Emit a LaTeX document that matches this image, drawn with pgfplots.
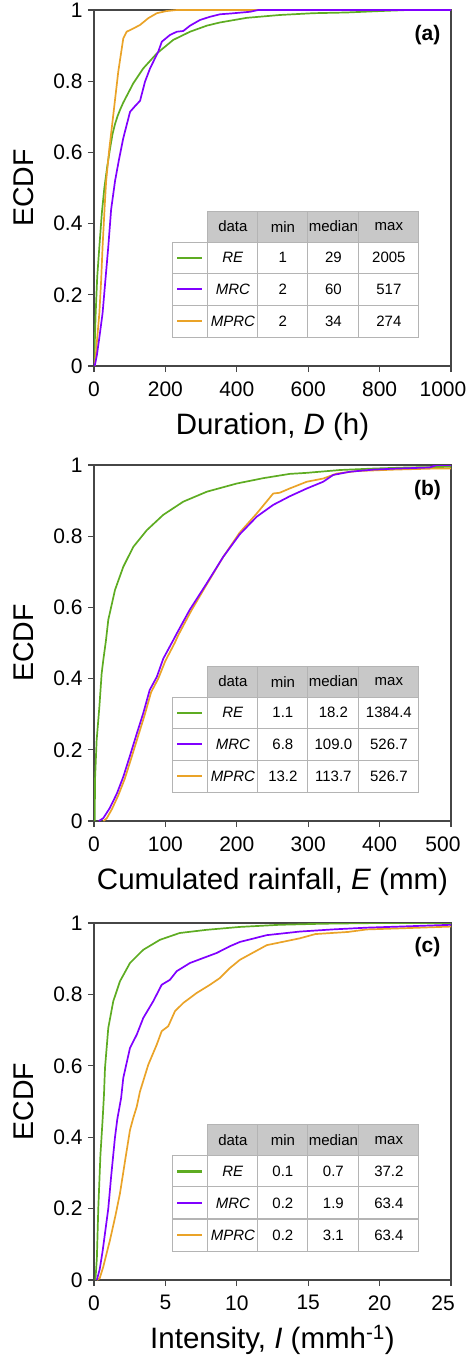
\documentclass[border=0pt]{standalone}
\usepackage{pgfplots}
\pgfplotsset{compat=1.18}
\usepackage{fontspec}
\setmainfont{Liberation Sans}
\definecolor{cgreen}{RGB}{94,172,34}
\definecolor{cpurple}{RGB}{128,0,255}
\definecolor{corange}{RGB}{234,163,40}
\definecolor{hdr}{RGB}{200,200,200}
\definecolor{gridc}{RGB}{180,180,180}
\definecolor{axc}{RGB}{70,70,70}

\newcommand{\ecdftable}[9]{%
  \fill[hdr] (rel axis cs:0.319,0.348) rectangle (rel axis cs:0.910,0.435);
  \draw[gridc, line width=1.1pt] (rel axis cs:0.319,0.348) rectangle (rel axis cs:0.910,0.435);
  \draw[gridc, line width=1.1pt] (rel axis cs:0.221,0.081) rectangle (rel axis cs:0.910,0.348);
  \draw[gridc, line width=1.1pt] (rel axis cs:0.319,0.081) -- (rel axis cs:0.319,0.435);
  \draw[gridc, line width=1.1pt] (rel axis cs:0.459,0.081) -- (rel axis cs:0.459,0.435);
  \draw[gridc, line width=1.1pt] (rel axis cs:0.599,0.081) -- (rel axis cs:0.599,0.435);
  \draw[gridc, line width=1.1pt] (rel axis cs:0.742,0.081) -- (rel axis cs:0.742,0.435);
  \draw[gridc, line width=1.1pt] (rel axis cs:0.221,0.261) -- (rel axis cs:0.910,0.261);
  \draw[gridc, line width=1.1pt] (rel axis cs:0.221,0.171) -- (rel axis cs:0.910,0.171);
  \fill[cgreen] (rel axis cs:0.232,0.3005) rectangle (rel axis cs:0.302,0.3075);
  \fill[cpurple] (rel axis cs:0.232,0.2125) rectangle (rel axis cs:0.302,0.2195);
  \fill[corange] (rel axis cs:0.232,0.1225) rectangle (rel axis cs:0.302,0.1295);
  \node[tfont] at (rel axis cs:0.389,0.3915) {data};
  \node[tfont] at (rel axis cs:0.529,0.3915) {min};
  \node[tfont] at (rel axis cs:0.6705,0.3915) {median};
  \node[tfont] at (rel axis cs:0.826,0.3915) {max};
  \node[tfont] at (rel axis cs:0.389,0.3045) {\textit{RE}};
  \node[tfont] at (rel axis cs:0.389,0.216) {\textit{MRC}};
  \node[tfont] at (rel axis cs:0.389,0.126) {\textit{MPRC}};
  \node[tfont] at (rel axis cs:0.529,0.3045) {#1};
  \node[tfont] at (rel axis cs:0.6705,0.3045) {#2};
  \node[tfont] at (rel axis cs:0.826,0.3045) {#3};
  \node[tfont] at (rel axis cs:0.529,0.216) {#4};
  \node[tfont] at (rel axis cs:0.6705,0.216) {#5};
  \node[tfont] at (rel axis cs:0.826,0.216) {#6};
  \node[tfont] at (rel axis cs:0.529,0.126) {#7};
  \node[tfont] at (rel axis cs:0.6705,0.126) {#8};
  \node[tfont] at (rel axis cs:0.826,0.126) {#9};
}

\tikzset{tfont/.style={font=\fontsize{15}{15}\selectfont, inner sep=0pt, anchor=center}}

\pgfplotsset{
  myaxis/.style={
    width=357pt, scale only axis,
    ymin=0, ymax=1, xmin=0,
    axis line style={axc, line width=1.1pt},
    every tick/.style={axc, line width=1.1pt},
    tick align=outside, xtick pos=bottom, ytick pos=left,
    major tick length=6pt,
    ytick={0,0.2,0.4,0.6,0.8,1},
    yticklabels={0,0.2,0.4,0.6,0.8,1},
    tick label style={font=\fontsize{21}{21}\selectfont},
    xticklabel style={yshift=-6pt},
    yticklabel style={xshift=-2pt},
    /pgf/number format/assume math mode=true,
    /pgf/number format/1000 sep={},
    extra x tick style={xticklabel style={xshift=-8pt}},
    ylabel={ECDF},
    every axis y label/.style={at={(axis description cs:-0.170,0.5)}, anchor=base, rotate=90, font=\fontsize{28.5}{30}\selectfont},
    every axis x label/.style={at={(axis description cs:0.5,-0.193)}, anchor=base, font=\fontsize{29.5}{30}\selectfont},
    every axis plot/.append style={line width=1.7pt, line join=round, no markers},
  }
}

\begin{document}
\begin{tikzpicture}
\path[use as bounding box] (0pt,0pt) rectangle (467pt,-1356pt);

% ---------------- (a) ----------------
\begin{axis}[myaxis, at={(94pt,-10pt)}, anchor=north west, height=356pt,
  xmax=1000, xtick={0,200,400,600,800}, xticklabels={0,200,400,600,800},
  extra x ticks={1000}, extra x tick labels={1000},
  xlabel={Duration, \textit{D} (h)}]
\addplot[cgreen] coordinates {(1,0) (2,0.06) (4.7,0.148) (9,0.25) (15,0.335) (22,0.43) (29,0.5) (37,0.56) (45,0.611) (52,0.652) (59,0.680) (66,0.702) (74,0.722) (82,0.740) (110,0.794) (138,0.836) (176,0.878) (222,0.916) (269,0.939) (316,0.956) (353,0.965) (428,0.978) (521,0.986) (614,0.991) (708,0.993) (801,0.997) (880,1.0) (1000,1.0)};
\addplot[corange] coordinates {(2,0) (5.6,0.036) (10,0.09) (15,0.148) (20,0.24) (24,0.335) (30,0.45) (34,0.52) (43,0.611) (54,0.705) (68,0.827) (82,0.92) (91.5,0.939) (110,0.948) (129,0.958) (152,0.977) (176,0.991) (203,0.997) (232,1.0) (1000,1.0)};
\addplot[cpurple] coordinates {(2,0) (8,0.03) (15,0.08) (24,0.148) (32,0.242) (40,0.335) (48,0.44) (59,0.52) (70,0.58) (82,0.64) (101,0.714) (115,0.73) (129,0.745) (143,0.799) (157,0.836) (180,0.883) (190,0.911) (213,0.930) (232,0.939) (250,0.941) (269,0.956) (297,0.972) (325,0.981) (353,0.988) (381,0.990) (437,0.995) (460,1.0) (1000,1.0)};
\node[font=\bfseries\fontsize{21}{21}\selectfont] at (rel axis cs:0.934,0.93) {(a)};
\ecdftable{1}{29}{2005}{2}{60}{517}{2}{34}{274}
\end{axis}

% ---------------- (b) ----------------
\begin{axis}[myaxis, at={(94pt,-465pt)}, anchor=north west, height=356pt,
  xmax=500, xtick={0,100,200,300,400}, xticklabels={0,100,200,300,400},
  extra x ticks={500}, extra x tick labels={500},
  xlabel={Cumulated rainfall, \textit{E} (mm)}]
\addplot[cgreen] coordinates {(1.1,0) (1.4,0.115) (3.7,0.227) (7.5,0.32) (10.7,0.414) (13,0.452) (16.8,0.508) (20,0.565) (29.4,0.649) (41,0.714) (55,0.770) (74,0.817) (97,0.860) (125,0.897) (158,0.925) (200,0.948) (237,0.963) (274,0.975) (298,0.978) (345,0.986) (391,0.990) (438,0.993) (500,0.995)};
\addplot[corange] coordinates {(13.2,0) (18,0.008) (25,0.033) (34,0.072) (43,0.118) (52,0.175) (62,0.24) (71,0.298) (80,0.362) (90,0.40) (100,0.45) (113,0.5) (118,0.522) (136,0.59) (158,0.665) (181,0.742) (204,0.81) (228,0.864) (251,0.92) (260,0.922) (274,0.934) (298,0.953) (321,0.962) (340,0.976) (368,0.983) (420,0.987) (475,0.990) (500,0.990)};
\addplot[cpurple] coordinates {(6.8,0) (13,0.008) (22,0.036) (32,0.077) (41,0.124) (50,0.181) (60,0.246) (69,0.303) (78,0.368) (88,0.405) (97,0.456) (111,0.508) (116,0.527) (134,0.593) (158,0.668) (181,0.742) (204,0.805) (228,0.855) (251,0.888) (274,0.912) (298,0.934) (321,0.953) (335,0.972) (358,0.981) (391,0.987) (424,0.990) (470,0.993) (480,1.0) (500,1.0)};
\node[font=\bfseries\fontsize{21}{21}\selectfont] at (rel axis cs:0.934,0.93) {(b)};
\ecdftable{1.1}{18.2}{1384.4}{6.8}{109.0}{526.7}{13.2}{113.7}{526.7}
\end{axis}

% ---------------- (c) ----------------
\begin{axis}[myaxis, at={(94pt,-923pt)}, anchor=north west, height=357pt,
  xmax=25, xtick={0,5,10,15,20}, xticklabels={0,5,10,15,20},
  extra x ticks={25}, extra x tick labels={25},
  xlabel={Intensity, \textit{I} (mmh\textsuperscript{-1})}]
\addplot[cgreen] coordinates {(0.1,0) (0.2,0.06) (0.3,0.2) (0.45,0.35) (0.61,0.454) (0.7,0.52) (0.77,0.594) (1.0,0.706) (1.35,0.781) (1.82,0.837) (2.52,0.888) (3.45,0.925) (4.62,0.953) (6.0,0.972) (7.9,0.981) (10.2,0.989) (13,0.995) (16,0.998) (20,1.0) (25,1.0)};
\addplot[corange] coordinates {(0.2,0) (0.4,0.005) (0.65,0.037) (1.12,0.112) (1.5,0.18) (1.82,0.243) (2.2,0.34) (2.52,0.42) (2.75,0.454) (2.99,0.485) (3.22,0.528) (3.8,0.603) (4.39,0.659) (4.74,0.697) (5.2,0.711) (5.67,0.753) (6.25,0.776) (7.19,0.804) (8.12,0.827) (8.82,0.846) (9.52,0.874) (10.22,0.897) (12.1,0.938) (14.4,0.957) (15.5,0.969) (17.8,0.975) (19.1,0.982) (21.4,0.985) (25,0.99)};
\addplot[cpurple] coordinates {(0.2,0) (0.4,0.03) (0.6,0.08) (0.8,0.14) (1.0,0.2) (1.2,0.29) (1.47,0.4) (1.63,0.45) (1.9,0.51) (2.05,0.566) (2.52,0.650) (2.99,0.687) (3.45,0.734) (4.15,0.781) (4.74,0.827) (5.32,0.841) (5.79,0.865) (6.72,0.888) (7.65,0.902) (8.59,0.916) (9.52,0.935) (10.22,0.947) (12.1,0.966) (14.4,0.976) (16.7,0.982) (19.1,0.987) (21.4,0.990) (23.5,0.993) (25,0.995)};
\node[font=\bfseries\fontsize{21}{21}\selectfont] at (rel axis cs:0.934,0.932) {(c)};
\ecdftable{0.1}{0.7}{37.2}{0.2}{1.9}{63.4}{0.2}{3.1}{63.4}
\end{axis}
\end{tikzpicture}
\end{document}
